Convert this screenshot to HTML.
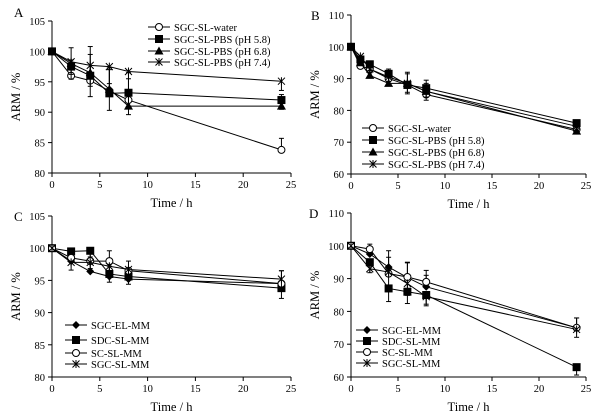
<!DOCTYPE html>
<html><head><meta charset="utf-8">
<style>
html,body{margin:0;padding:0;background:#fff;}
svg{display:block;font-family:"Liberation Serif","Times New Roman",serif;}
</style></head>
<body>
<svg id="fig" width="603" height="415" viewBox="0 0 603 415" xmlns="http://www.w3.org/2000/svg"></svg>
<script>
// ---- data ----
const timesA = [0,2,4,6,8,24];
const timesB = [0,1,2,4,6,8,24];
const timesC = [0,2,4,6,8,24];
const timesD = [0,2,4,6,8,24];
const aWater = [100,96,95.2,93.5,92,83.8];
const aPbs58 = [100,97.5,96,93.1,93.2,92];
const aPbs68 = [100,98,96.5,93.8,91,91];
const aPbs74 = [100,98.3,97.7,97.5,96.7,95.1];
const aErr = [0,2.6,4.3,3.5,4.5,1.9];
const bWater = [100,94,93,90,88,85,74];
const bPbs58 = [100,96,94.5,91.5,88,87,76];
const bPbs68 = [100,95,91,88.5,88.5,86,73.5];
const bPbs74 = [100,97,93,90.5,88.5,86,75];
const bErr = [0,2,1.5,3,3.5,3.5,1.5];
const cEL = [100,98,96.4,95.6,95.2,94.5];
const cSDC = [100,99.5,99.6,96,95.6,93.8];
const cSC = [100,98.5,98,98,96.5,94.5];
const cSGC = [100,97.8,97.8,97.2,96.7,95.2];
const cErr = [0,1.5,1.2,1.6,1.5,2];
const dEL = [100,97.5,93.5,90.3,87.5,75];
const dSDC = [100,95,87,86,85,63];
const dSC = [100,99,91.5,90.5,89,75];
const dSGC = [100,93,92,88.5,84.5,74.5];
const dErr = [0,1.5,5,4.5,3.5,3];
const xTicks = [0,5,10,15,20,25];
const yTicksA = [80,85,90,95,100,105];
const yTicksB = [60,70,80,90,100,110];
const labelsAB = ["SGC-SL-water","SGC-SL-PBS (pH 5.8)","SGC-SL-PBS (pH 6.8)","SGC-SL-PBS (pH 7.4)"];
const labelsCD = ["SGC-EL-MM","SDC-SL-MM","SC-SL-MM","SGC-SL-MM"];

const NS="http://www.w3.org/2000/svg";
const svg=document.getElementById('fig');
function mk(tag,attrs,parent){const e=document.createElementNS(NS,tag);for(const k in attrs)e.setAttribute(k,attrs[k]);(parent||svg).appendChild(e);return e;}

function marker(g,type,x,y){
  let e;
  if(type==='circle'){e=mk('circle',{cx:x,cy:y,r:3.5,fill:'#fff',stroke:'#000','stroke-width':1},g);}
  else if(type==='square'){e=mk('rect',{x:x-4,y:y-4,width:8,height:8,fill:'#000'},g);}
  else if(type==='triangle'){e=mk('polygon',{points:`${x},${y-4.5} ${x-4.5},${y+3.5} ${x+4.5},${y+3.5}`,fill:'#000'},g);}
  else if(type==='diamond'){e=mk('polygon',{points:`${x},${y-4} ${x-4},${y} ${x},${y+4} ${x+4},${y}`,fill:'#000'},g);}
  else {e=mk('path',{d:`M${x-3.5},${y-3.5}L${x+3.5},${y+3.5}M${x-3.5},${y+3.5}L${x+3.5},${y-3.5}M${x},${y-4}L${x},${y+4}`,stroke:'#000','stroke-width':1,fill:'none'},g);}
  return e;
}

function panel(cfg){
  const g=mk('g',{});
  
  
  const X=v=>cfg.x0+(v-0)/25*(cfg.x1-cfg.x0);
  const Y=v=>cfg.yb+(v-cfg.ymin)/(cfg.ymax-cfg.ymin)*(cfg.yt-cfg.yb);
  const ax=mk('path',{d:`M${cfg.x0},${cfg.yt}L${cfg.x0},${cfg.yb}L${cfg.x1},${cfg.yb}`,stroke:'#000',fill:'none','stroke-width':1},g);
  
  
  xTicks.forEach(t=>{
    mk('line',{x1:X(t),x2:X(t),y1:cfg.yb,y2:cfg.yb+4,stroke:'#000'},g);
    const tx=mk('text',{x:X(t),y:cfg.yb+15,'text-anchor':'middle','font-size':10.5},g);tx.textContent=t;
    
    
  });
  cfg.yTicks.forEach(t=>{
    mk('line',{x1:cfg.x0-4,x2:cfg.x0,y1:Y(t),y2:Y(t),stroke:'#000'},g);
    const tx=mk('text',{x:cfg.x0-7,y:Y(t)+4,'text-anchor':'end','font-size':10.5},g);tx.textContent=t;
    
    
  });
  const xt=mk('text',{x:(cfg.x0+cfg.x1)/2,y:cfg.yb+34,'text-anchor':'middle','font-size':12.5},g);xt.textContent='Time / h';
  
  
  const cy=(cfg.yt+cfg.yb)/2;
  const yt=mk('text',{x:cfg.x0-32,y:cy,'text-anchor':'middle','font-size':12.5,transform:`rotate(-90 ${cfg.x0-32} ${cy})`},g);yt.textContent='ARM / %';
  
  
  const pl=mk('text',{x:cfg.lx,y:cfg.ly,'font-size':13},g);pl.textContent=cfg.letter;
  
  
  cfg.series.forEach((s,si)=>{
    const sg=mk('g',{},g);
    
    
    const pts=s.vals.map((v,i)=>[X(cfg.times[i]),Y(v)]);
    mk('polyline',{points:pts.map(p=>p.join(',')).join(' '),fill:'none',stroke:'#000','stroke-width':1},sg);
    s.vals.forEach((v,i)=>{
      const e=cfg.err[i]*(si%2?0.8:1);
      if(e>0){
        const x=X(cfg.times[i]);
        const dir = si%2 ? -1 : 1;
        const y2=Y(v+e*dir);
        mk('line',{x1:x,x2:x,y1:Y(v),y2:y2,stroke:'#000'},sg);
        mk('line',{x1:x-2.5,x2:x+2.5,y1:y2,y2:y2,stroke:'#000'},sg);
      }
      const m=marker(sg,s.m,X(cfg.times[i]),Y(v));
      
      
    });
  });
  cfg.labels.forEach((lab,i)=>{
    const lg=mk('g',{},g);
    
    
    const y=cfg.legY[i];
    mk('line',{x1:cfg.legX,x2:cfg.legX+22,y1:y,y2:y,stroke:'#000'},lg);
    marker(lg,cfg.series[i].m,cfg.legX+11,y);
    const t=mk('text',{x:cfg.legX+26,y:y+4,'font-size':10.5},lg);t.textContent=lab;
  });
}

panel({name:'panel-a',letter:'A',lx:14,ly:17,x0:52,x1:291,yt:21,yb:173,ymin:80,ymax:105,yTicks:yTicksA,times:timesA,err:aErr,
  series:[{vals:aWater,m:'circle'},{vals:aPbs58,m:'square'},{vals:aPbs68,m:'triangle'},{vals:aPbs74,m:'star'}],
  labels:labelsAB,legX:148,legY:[27,39,51,62]});
panel({name:'panel-b',letter:'B',lx:311,ly:20,x0:351,x1:586,yt:15,yb:174,ymin:60,ymax:110,yTicks:yTicksB,times:timesB,err:bErr,
  series:[{vals:bWater,m:'circle'},{vals:bPbs58,m:'square'},{vals:bPbs68,m:'triangle'},{vals:bPbs74,m:'star'}],
  labels:labelsAB,legX:362,legY:[128,140,152,164]});
panel({name:'panel-c',letter:'C',lx:14,ly:221,x0:52,x1:291,yt:216,yb:377,ymin:80,ymax:105,yTicks:yTicksA,times:timesC,err:cErr,
  series:[{vals:cEL,m:'diamond'},{vals:cSDC,m:'square'},{vals:cSC,m:'circle'},{vals:cSGC,m:'star'}],
  labels:labelsCD,legX:65,legY:[325,340,353,364]});
panel({name:'panel-d',letter:'D',lx:309,ly:218,x0:351,x1:586,yt:213,yb:377,ymin:60,ymax:110,yTicks:yTicksB,times:timesD,err:dErr,
  series:[{vals:dEL,m:'diamond'},{vals:dSDC,m:'square'},{vals:dSC,m:'circle'},{vals:dSGC,m:'star'}],
  labels:labelsCD,legX:356,legY:[330,341,352,363]});
</script>
</body></html>
